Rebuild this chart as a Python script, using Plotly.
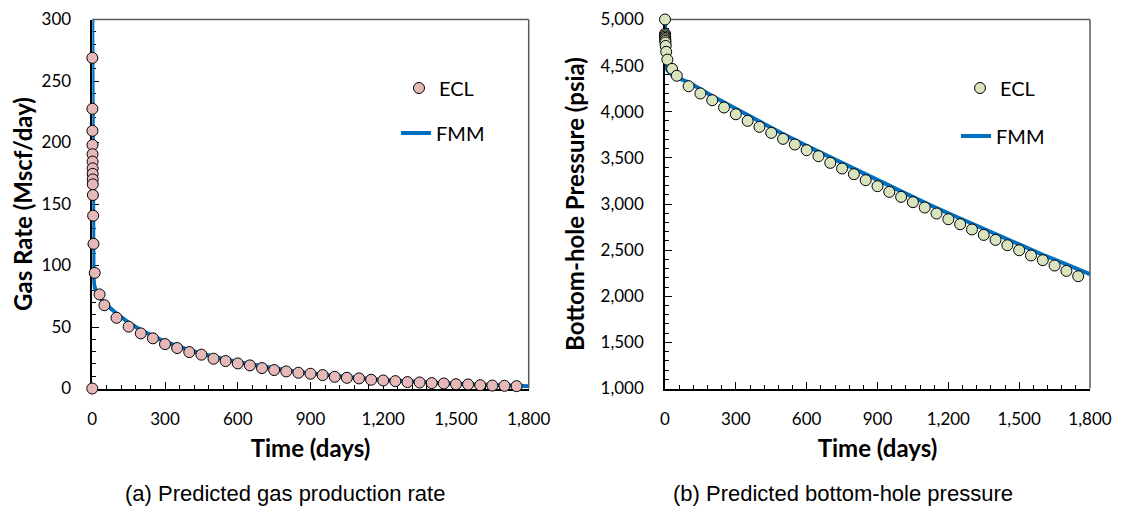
import plotly.graph_objects as go
from plotly.subplots import make_subplots

W, H = 1121, 513

# ---------------- data: (a) gas rate ----------------
rate_ecl_t = [0, 0.2, 0.4, 0.6, 0.8, 1.0, 1.2, 1.4, 1.6, 1.8, 2.0, 2.5, 3.5, 5, 10, 30, 50,
              100, 150, 200, 250, 300, 350, 400, 450, 500, 550, 600, 650, 700, 750, 800, 850,
              900, 950, 1000, 1050, 1100, 1150, 1200, 1250, 1300, 1350, 1400, 1450, 1500,
              1550, 1600, 1650, 1700, 1750]
rate_ecl = [0, 268.8, 227.4, 209.5, 198, 190.5, 184.5, 179, 174.5, 170, 166, 157.3, 140.5, 117.6,
            94, 76.5, 67.7, 57.5, 50.3, 44.8, 40.8, 36.1, 32.9, 29.6, 27.5, 24.2, 22.3, 20.4,
            18.8, 16.6, 15.0, 13.9, 12.8, 12.0, 10.9, 9.5, 8.7, 8.2, 7.1, 6.5, 6.0, 5.2, 4.9,
            4.4, 4.1, 3.5, 3.3, 2.7, 2.4, 2.2, 1.9]

rate_fmm_t = [0, 1, 2, 3, 5, 8, 15, 30, 50, 100, 150, 200, 300, 400, 500, 600, 700, 800, 900,
              1000, 1100, 1200, 1300, 1400, 1500, 1600, 1700, 1800]
rate_fmm = [300, 180, 130, 105, 90, 84, 79, 74, 69.5, 61, 53.5, 47.5, 38, 31.2, 25.8, 21.5, 17.8,
            14.8, 12.3, 10.2, 8.5, 7.0, 5.8, 4.8, 3.9, 3.1, 2.5, 1.9]

# ---------------- data: (b) bottom-hole pressure ----------------
bhp_ecl_t = [0, 0.2, 0.4, 0.6, 0.8, 1.0, 1.5, 2, 3, 5, 10, 30, 50, 100, 150, 200, 250, 300, 350,
             400, 450, 500, 550, 600, 650, 700, 750, 800, 850, 900, 950, 1000, 1050, 1100, 1150,
             1200, 1250, 1300, 1350, 1400, 1450, 1500, 1550, 1600, 1650, 1700, 1750]
bhp_ecl = [5000, 4845, 4830, 4815, 4800, 4785, 4768, 4750, 4714, 4650, 4565, 4465, 4390, 4277,
           4198, 4125, 4046, 3973, 3901, 3836, 3771, 3706, 3645, 3583, 3518, 3446, 3385, 3323,
           3258, 3193, 3131, 3077, 3020, 2962, 2897, 2835, 2781, 2724, 2665, 2611, 2553, 2499,
           2442, 2391, 2333, 2275, 2217]

bhp_fmm_t = [0, 1, 3, 5, 10, 30, 50, 100, 200, 300, 400, 500, 600, 700, 800, 900, 1000, 1100,
             1200, 1300, 1400, 1500, 1600, 1700, 1800]
bhp_fmm = [5000, 4700, 4560, 4500, 4450, 4400, 4370, 4320, 4170, 4030, 3890, 3760, 3630, 3505,
           3380, 3255, 3135, 3015, 2900, 2785, 2670, 2560, 2450, 2345, 2239]

x_ticks = [0, 300, 600, 900, 1200, 1500, 1800]
x_ticktext = ["0", "300", "600", "900", "1,200", "1,500", "1,800"]

BLUE = "#0070C0"
PINK = "#E6B9B8"
GREEN = "#D7E4BD"
FONT = "Lato"

fig = make_subplots(rows=1, cols=2)

fig.add_trace(go.Scatter(x=rate_fmm_t, y=rate_fmm, mode="lines", name="FMM",
                         line=dict(color=BLUE, width=4), legend="legend2",
                         cliponaxis=False), 1, 1)
fig.add_trace(go.Scatter(x=rate_ecl_t, y=rate_ecl, mode="markers", name="ECL",
                         marker=dict(color=PINK, size=11, line=dict(color="black", width=1)),
                         legend="legend", cliponaxis=False), 1, 1)
fig.add_trace(go.Scatter(x=bhp_fmm_t, y=bhp_fmm, mode="lines", name="FMM",
                         line=dict(color=BLUE, width=4), legend="legend4",
                         cliponaxis=False), 1, 2)
fig.add_trace(go.Scatter(x=bhp_ecl_t, y=bhp_ecl, mode="markers", name="ECL",
                         marker=dict(color=GREEN, size=11, line=dict(color="black", width=1)),
                         legend="legend3", cliponaxis=False), 1, 2)

L_DOM = [92.3 / W, 528.7 / W]
R_DOM = [665 / W, 1090 / W]
Y_DOM = [(H - 388.5) / H, (H - 19.5) / H]

common_x = dict(range=[0, 1800], tickvals=x_ticks, ticktext=x_ticktext,
                ticks="inside", ticklen=7, tickwidth=1.3, tickcolor="black",
                minor=dict(ticks="inside", dtick=60, ticklen=4, tickwidth=1.2, tickcolor="black"),
                showline=True, linecolor="black", linewidth=1.5, showgrid=False, zeroline=False,
                layer="below traces", ticklabelstandoff=14, automargin=False,
                tickfont=dict(family=FONT, size=17, color="black"),
                title=dict(text="<b>Time (days)</b>", standoff=13,
                           font=dict(family=FONT, size=24, color="black")))
common_y = dict(ticks="inside", ticklen=7, tickwidth=1.3, tickcolor="black",
                showline=True, linecolor="black", linewidth=1.5, showgrid=False, zeroline=False,
                layer="below traces", ticklabelstandoff=16, automargin=False,
                tickfont=dict(family=FONT, size=17, color="black"))

fig.update_layout(
    xaxis=dict(domain=L_DOM, **common_x),
    xaxis2=dict(domain=R_DOM, **common_x),
    yaxis=dict(domain=Y_DOM, range=[0, 300], dtick=50,
               minor=dict(ticks="inside", dtick=10, ticklen=4, tickwidth=1.2, tickcolor="black"),
               title=dict(text="<b>Gas Rate (Mscf/day)</b>", standoff=2,
                          font=dict(family=FONT, size=24, color="black")),
               **common_y),
    yaxis2=dict(domain=Y_DOM, range=[1000, 5000], dtick=500, tickformat=",",
                minor=dict(ticks="inside", dtick=100, ticklen=4, tickwidth=1.2, tickcolor="black"),
                title=dict(text="<b>Bottom-hole Pressure (psia)</b>", standoff=9,
                           font=dict(family=FONT, size=24, color="black")),
                **common_y),
)

# plot-area border (top and right edges, grey)
for xr, yr in (("x domain", "y domain"), ("x2 domain", "y2 domain")):
    fig.add_shape(type="line", xref=xr, yref=yr, x0=0, x1=1, y0=1, y1=1,
                  line=dict(color="#595959", width=1.5), layer="below")
    fig.add_shape(type="line", xref=xr, yref=yr, x0=1, x1=1, y0=0, y1=1,
                  line=dict(color="#595959", width=1.5), layer="below")

leg_common = dict(font=dict(family=FONT, size=20, color="black"), bgcolor="rgba(0,0,0,0)",
                  xanchor="left", yanchor="middle", borderwidth=0)
fig.update_layout(
    legend=dict(x=399 / W, y=1 - 88 / H, **leg_common),
    legend2=dict(x=396 / W, y=1 - 133 / H, **leg_common),
    legend3=dict(x=960 / W, y=1 - 88 / H, **leg_common),
    legend4=dict(x=956 / W, y=1 - 136 / H, **leg_common),
)

fig.add_annotation(text="(a) Predicted gas production rate", xref="paper", yref="paper",
                   x=285 / W, y=(H - 493) / H, showarrow=False, xanchor="center",
                   yanchor="middle", font=dict(family="Liberation Sans", size=22, color="black"))
fig.add_annotation(text="(b) Predicted bottom-hole pressure", xref="paper", yref="paper",
                   x=843 / W, y=(H - 493) / H, showarrow=False, xanchor="center",
                   yanchor="middle", font=dict(family="Liberation Sans", size=22, color="black"))

fig.update_layout(width=W, height=H, margin=dict(l=0, r=0, t=0, b=0),
                  paper_bgcolor="white", plot_bgcolor="white", showlegend=True)

fig.write_html("out.html")
